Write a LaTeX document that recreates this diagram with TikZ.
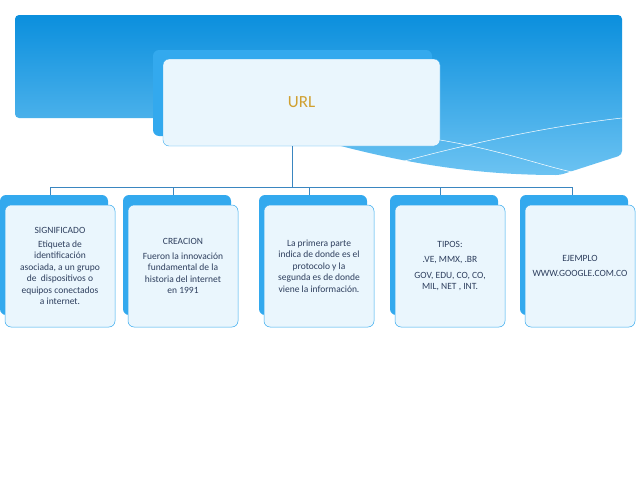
\documentclass[tikz,border=0pt]{standalone}
\usepackage{fontspec}
\setmainfont{Carlito}
\usetikzlibrary{positioning}
\definecolor{bandtop}{HTML}{0B8FDD}
\definecolor{bandlow}{HTML}{6CC3F2}
\definecolor{backblue}{HTML}{33A9EE}
\definecolor{frontfill}{HTML}{EAF6FD}
\definecolor{linkblue}{HTML}{3A86C0}
\definecolor{txt}{HTML}{2E3F5E}
\definecolor{urlgold}{HTML}{D0A030}
\tikzset{
  frontbox/.style={draw=backblue, line width=0.5pt, fill=frontfill, rounded corners=6pt, align=center, text=txt, font=\fontsize{9.5}{11.5}\selectfont},
  link/.style={draw=linkblue, line width=0.6pt}
}
\begin{document}
\begin{tikzpicture}[x=1pt,y=-1pt]
\useasboundingbox (0,0) rectangle (638,479);
% band and wave
\shade[top color=bandtop, bottom color=bandlow, rounded corners=4pt] (15,15) -- (622,15) -- (622,155) -- (560,175) .. controls (400,175) and (300,130) .. (230,118) -- (15,118) -- cycle;
\draw[white, line width=0.5pt] (390,165) .. controls (480,140) and (560,125) .. (622,118);
\draw[white, line width=0.5pt] (440,140) .. controls (500,150) and (540,165) .. (572,172);
% root node
\fill[backblue, rounded corners=6pt] (153,50) rectangle (432,136);
\node (url)[draw=backblue, fill=frontfill, rounded corners=6pt, minimum width=277pt, minimum height=87pt, text=urlgold, font=\fontsize{17}{19}\selectfont] at (301.5,102.5) {URL};
% children
\foreach \x/\name/\txt in {
  60/sig/{SIGNIFICADO\\[2pt]Etiqueta de\\identificación\\asociada, a un grupo\\de \ dispositivos o\\equipos conectados\\a internet.},
  183/cre/{CREACION\\[3pt]Fueron la innovación\\fundamental de la\\historia del internet\\en 1991},
  319/pro/{La primera parte\\indica de donde es el\\protocolo y la\\segunda es de donde\\viene la información.},
  450/tip/{TIPOS:\\[4pt].VE, MMX, .BR\\[4pt]GOV, EDU, CO, CO,\\MIL, NET , INT.},
  580/eje/{EJEMPLO\\[4pt]WWW.GOOGLE.COM.CO}}{
  \fill[backblue, rounded corners=6pt] (\x-60,195) rectangle (\x+48,315);
  \node (\name)[frontbox, minimum width=110pt, minimum height=122pt] at (\x,266) {\txt};
}
% connect the nodes
\draw[link] (292,146) -- (292,187);
\draw[link] (50,187) -- (572,187);
\foreach \xx in {50,173,309,440,572}{
  \draw[link] (\xx,187) -- (\xx,195);
}
\end{tikzpicture}
\end{document}
